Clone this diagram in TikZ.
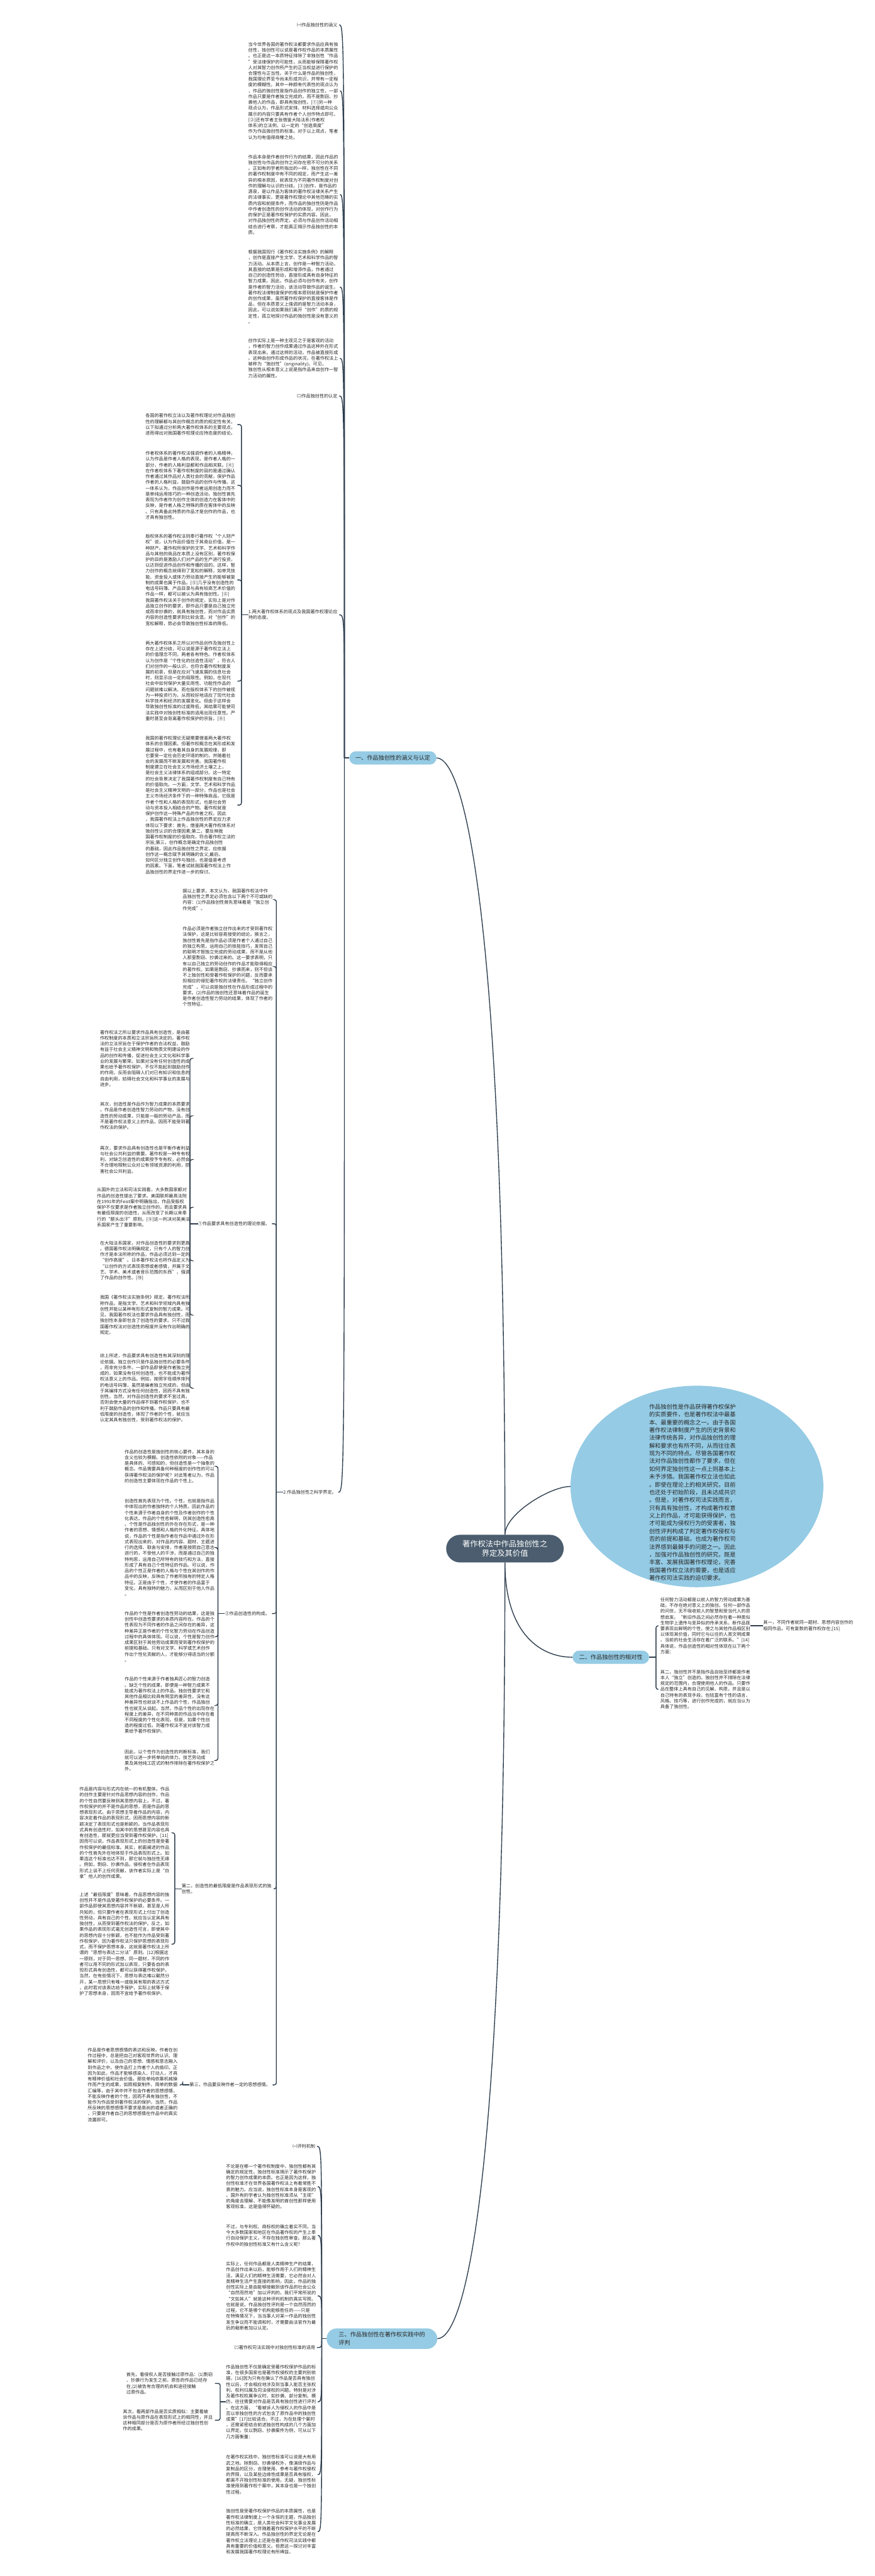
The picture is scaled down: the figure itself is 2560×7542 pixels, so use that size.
\documentclass[tikz,border=0pt]{standalone}
\usepackage{fontspec}
\setmainfont{Noto Sans CJK SC}
\usetikzlibrary{shapes.geometric,shapes.misc,calc}
\definecolor{lc}{RGB}{46,62,78}
\definecolor{pb}{RGB}{149,203,228}
\definecolor{cb}{RGB}{75,93,110}
\definecolor{tc}{RGB}{40,40,40}
\newcommand{\cedge}[2]{\draw[link] (#1) .. controls (#1 |- #2.east) .. ($(#2.east)+(5,0)$);}
\newcommand{\bedge}[2]{\draw[link,rounded corners=1.5mm] (#1) |- ($(#2.east)+(6,0)$);}
\begin{document}
\begin{tikzpicture}[x=0.25mm,y=-0.25mm,
 link/.style={draw=lc,line width=1.8pt},
 txt/.style={font=\fontsize{9.35}{12.1}\selectfont,align=left,inner sep=0pt,text=tc},
 pill/.style={rounded rectangle,fill=pb,inner sep=0pt,font=\fontsize{12}{16}\selectfont,text=tc},
]
\fill[white] (0,0) rectangle (2560,7542);
\useasboundingbox (0,0) rectangle (2560,7542);

% ---------- centre and main branches
\node[rounded rectangle,fill=cb,text=white,minimum width=344*0.25mm,minimum height=81*0.25mm,
  font=\fontsize{16.1}{20.4}\selectfont,align=center,inner sep=0pt] (c) at (1478,4534) {著作权法中作品独创性之\\界定及其价值};
\node[pill,minimum width=255*0.25mm,minimum height=39*0.25mm] (p1) at (1150,2219) {一、作品独创性的涵义与认定};
\node[pill,minimum width=224*0.25mm,minimum height=39*0.25mm] (p2) at (1788,4852) {二、作品独创性的相对性};
\node[pill,minimum width=324*0.25mm,minimum height=60*0.25mm,align=left] (p3) at (1118,6847) {三、作品独创性在著作权实践中的\\评判};

% intro bubble
\node[ellipse,fill=pb,minimum width=740*0.25mm,minimum height=590*0.25mm,inner sep=0pt] (ci) at (2040,4352) {};
\node[txt,font=\fontsize{12}{16.2}\selectfont,anchor=south west] (cit) at (1900,4628) {作品独创性是作品获得著作权保护\\的实质要件，也是著作权法中最基\\本、最重要的概念之一。由于各国\\著作权法律制度产生的历史背景和\\法律传统各异，对作品独创性的理\\解和要求也有所不同，从而往往表\\现为不同的特点。尽管各国著作权\\法对作品独创性都作了要求，但在\\如何界定独创性这一点上则基本上\\未予涉猎。我国著作权立法也如此\\。即使在理论上的相关研究，目前\\也还处于初始阶段，且未达成共识\\。但是，对著作权司法实践而言，\\只有具有独创性，才构成著作权意\\义上的作品，才可能获得保护，也\\才可能成为侵权行为的受害者，独\\创性评判构成了判定著作权侵权与\\否的前提和基础，也成为著作权司\\法界感到最棘手的问题之一。因此\\，加强对作品独创性的研究，既是\\丰富、发展我国著作权理论，完善\\我国著作权立法的需要，也是适应\\著作权司法实践的迫切要求。};

\draw[link] (c.north) .. controls +(0,-1800) and +(83,0) .. (p1.east);
\draw[link] (c.south) .. controls +(0,1800) and +(83,0) .. (p3.east);
\draw[link] (c.south) .. controls +(0,200) and +(-100,0) .. (p2.west);
\draw[link] (c.north) .. controls +(0,-60) and +(-60,0) .. (ci.west);

% ---------- branch one
\node[txt,anchor=east] (a1) at (988,73) {㈠作品独创性的涵义};
\node[txt,anchor=east] (a2) at (990,266) {当今世界各国的著作权法都要求作品应具有独\\创性，独创性可以说是著作权作品的本质属性\\。也正是这一本质特征排除了非独创性“作品\\”受法律保护的可能性，从而能够保障著作权\\人对其智力创作所产生的正当权益进行保护的\\合理性与正当性。关于什么是作品的独创性，\\我国理论界至今尚未形成共识，并带有一定程\\度的模糊性。其中一种颇有代表性的观点认为\\，作品的独创性是指作品创作的独立性，一部\\作品只要是作者独立完成的，而不是剽窃、抄\\袭他人的作品，即具有独创性。{[}①{]}另一种\\观点认为，作品形式安排、材料选择或向公众\\展示的内容只要具有作者个人创作特点即可。\\{[}②{]}还有学者主张借鉴大陆法系(作者权\\体系)的立法例，以一定的“创造高度”\\作为作品独创性的标准。对于以上观点，笔者\\认为均有值得商榷之处。};
\node[txt,anchor=east] (a3) at (990,570) {作品本身是作者创作行为的结果，因此作品的\\独创性与作品的创作之间存在密不可分的关系\\。正如有的学者所指出的一样，独创性在不同\\的著作权制度中有不同的规定，而产生这一差\\异的根本原因，就表现为不同著作权制度对创\\作的理解与认识的分歧。{[}③{]}创作，是作品的\\源泉，是以作品为客体的著作权法律关系产生\\的法律事实，更是著作权理论中其他范畴的实\\质内容和前提条件，而作品的独创性则是作品\\中作者创造性的创作活动的体现，对创作行为\\的保护正是著作权保护的实质内容。因此，\\对作品独创性的界定，必须与作品创作活动相\\结合进行考察，才能真正揭示作品独创性的本\\质。};
\node[txt,anchor=east] (a4) at (990,840) {根据我国现行《著作权法实施条例》的解释\\，创作是直接产生文学、艺术和科学作品的智\\力活动。从本质上言，创作是一种智力活动，\\其直接的结果是形成和增添作品，作者通过\\自己的创造性劳动，直接形成具有自身特征的\\智力成果。因此，作品必须与创作有关，创作\\是作者的智力活动，该活动导致作品的诞生。\\著作权法律制度保护的根本原则就是保护作者\\的创作成果，虽然著作权保护的直接客体是作\\品，但在本质意义上强调的是智力活动本身，\\因此，可以说如果我们离开“创作”的质的规\\定性，孤立地探讨作品的独创性是没有意义的\\。};
\node[txt,anchor=east] (a5) at (990,1049) {创作实际上是一种主观见之于是客观的活动\\，作者的智力创作成果通过作品这种外在形式\\表现出来。通过这样的活动，作品被直接形成\\。这种由创作形成作品的状况，在著作权法上\\被称为“独创性”(originality)。可见，\\独创性从根本意义上说是指作品来自创作一智\\力活动的属性。};
\node[txt,anchor=east] (a6) at (988,1159) {㈡作品独创性的认定};
\node[txt,anchor=east] (a7) at (988,1800) {1.两大著作权体系的观点及我国著作权理论应\\持的态度。};
\node[txt,anchor=east] (a8) at (985,4369) {2.作品独创性之科学界定。};

\path (p1.west) ++(-14,0) coordinate (p1a);
\draw[link] (p1.west) -- (p1a);
\foreach \n in {a1,a2,a3,a4,a5,a6,a7,a8} {\cedge{p1a}{\n}}

% children of 1.
\node[txt,anchor=east] (b1) at (689,1243) {各国的著作权立法以及著作权理论对作品独创\\性的理解都与其创作概念的质的规定性有关，\\以下拟通过分析两大著作权体系的主要观点，\\进而得出对我国著作权理论应持态度的结论。};
\node[txt,anchor=east] (b2) at (689,1421) {作者权体系的著作权法强调作者的人格精神，\\认为作品是作者人格的表现，是作者人格的一\\部分，作者的人格利益都和作品相关联。{[}④{]}\\在作者权体系下著作权制度的目的是通过确认\\作者通过其作品对人类社会的贡献，保护作品\\作者的人格利益，鼓励作品的创作与传播。这\\一体系认为，作品创作是作者运用创造力而不\\是单纯运用技巧的一种创造活动，独创性首先\\表现为作者作为创作主体的创造力在客体中的\\反映，是作者人格之特殊的质在客体中的反映\\。只有具备此特质的作品才是创作的作品，也\\才具有独创性。};
\node[txt,anchor=east] (b3) at (689,1698) {版权体系的著作权法则奉行著作权“个人财产\\权”说，认为作品价值在于其商业价值，是一\\种财产。著作权所保护的文学、艺术和科学作\\品与其他的商品在本质上没有区别，著作权保\\护的目的是激励人们对产品的生产进行投资，\\以达到促进作品创作和传播的目的。这样，智\\力创作的概念就得到了宽松的解释，如单凭技\\能、资金投入或体力劳动直接产生的能够被复\\制的成果也属于作品。{[}⑤{]}几乎没有创造性的\\电话号码簿、产品目录与具有较高艺术价值的\\作品一样，都可以被认为具有独创性。{[}⑥{]}\\我国著作权法关于创作的规定，实际上是对作\\品独立创作的要求，即作品只要是自己独立完\\成而非抄袭的，就具有独创性，而对作品实质\\内容的创造性要求则比较含混。对“创作”的\\宽松解释，势必会导致独创性标准的降低。};
\node[txt,anchor=east] (b4) at (689,1994) {两大著作权体系之所以对作品创作及独创性上\\存在上述分歧，可以说是源于著作权立法上\\的价值理念不同，两者各有特色。作者权体系\\认为创作是“个性化的创造性活动”，符合人\\们对创作的一般认识，也符合著作权制度发\\展的初衷，但是在应对飞速发展的信息社会\\时，则显示出一定的局限性。例如，在现代\\社会中如何保护大量实用性、功能性作品的\\问题就难以解决。而在版权体系下的创作被视\\为一种投资行为，从而较好地适应了现代社会\\科学技术和经济的发展变化。但由于这样会\\导致独创性标准的过度降低，其结果可能使司\\法实践中对独创性标准的适用出现任意性。严\\重时甚至会背离著作权保护的宗旨。{[}⑧{]}};
\node[txt,anchor=east] (b5) at (689,2357) {我国的著作权理论无疑需要借鉴两大著作权\\体系的合理因素。但著作权概念在其形成和发\\展过程中，也有着其自身的发展规律，即\\它要受一定社会历史环境的制约，并随着社\\会的发展而不断发展和完善。我国著作权\\制度建立在社会主义市场经济土壤之上，\\是社会主义法律体系的组成部分。这一特定\\的社会背景决定了我国著作权制度有自己特有\\的价值取向。一方面，文学、艺术和科学作品\\是社会主义精神文明的一部分，作品也是社会\\主义市场经济条件下的一种特殊商品，它既是\\作者个性和人格的表现形式，也是社会劳\\动与资本投入相结合的产物。著作权就是\\保护创作这一特殊产品的作者之权。因此\\，我国著作权法上作品独创性的界定应力求\\体现以下要求：首先，借鉴两大著作权体系对\\独创性认识的合理因素;第二，要反映我\\国著作权制度的价值取向，符合著作权立法的\\宗旨;第三，创作概念是确定作品独创性\\的基础，因此作品独创性之界定，应依据\\创作这一概念赋予其明确的含义;最后，\\如何区分独立创作与独创，也是值是考虑\\的因素。下面，笔者试就我国著作权法上作\\品独创性的界定作进一步的探讨。};
\path (a7.west) ++(-20,0) coordinate (a7b);
\draw[link] (a7.west) -- (a7b);
\foreach \n in {b1,b2,b3,b4,b5} {\bedge{a7b}{\n}}

% children of 2.
\node[txt,anchor=east] (d1) at (798,2634) {据以上要求，本文认为，我国著作权法中作\\品独创性之界定必须包含以下两个不可或缺的\\内容：(1)作品独创性首先意味着是“独立创\\作完成”。};
\node[txt,anchor=east] (d2) at (798,2830) {作品必须是作者独立创作出来的才受到著作权\\法保护，这是比较容易接受的结论。换言之，\\独创性首先是指作品必须是作者个人通过自己\\的独立构思，运用自己的技能技巧，发挥自己\\的聪明才智独立完成的劳动成果，而不是从他\\人那里剽窃、抄袭过来的。这一要求表明，只\\有以自己独立的劳动创作的作品才能取得相应\\的著作权。如果是剽窃、抄袭而来，则不但谈\\不上独创性和受著作权保护的问题，反而要承\\担相应的侵犯著作权的法律责任。“独立创作\\完成”，可以说是独创性在作品形成过程中的\\要求。(2)作品的独创性还意味着作品的诞生\\是作者创造性智力劳动的结果，体现了作者的\\个性特征。};
\node[txt,anchor=east] (d3) at (790,3583) {①作品要求具有创造性的理论依据。};
\node[txt,anchor=east] (d4) at (790,4724) {②作品创造性的构成。};
\node[txt,anchor=east] (d5) at (795,5530) {第二，创造性的最低限度是作品表现形式的独\\创性。};
\node[txt,anchor=east] (d6) at (792,6104) {第三，作品要反映作者一定的思想感情。};
\path (a8.west) ++(-20,0) coordinate (a8b);
\draw[link] (a8.west) -- (a8b);
\foreach \n in {d1,d2,d3,d4,d5,d6} {\bedge{a8b}{\n}}

% children of (1)
\node[txt,anchor=east] (r1) at (556,3099) {著作权法之所以要求作品具有创造性，是由著\\作权制度的本质和立法宗旨所决定的。著作权\\法的立法宗旨在于保护作者的合法权益，鼓励\\有益于社会主义精神文明和物质文明建设的作\\品的创作和传播，促进社会主义文化和科学事\\业的发展与繁荣。如果对没有任何创造性的成\\果也给予著作权保护，不仅不能起到鼓励创作\\的作用，反而会阻碍人们对已有知识和信息的\\自由利用，妨碍社会文化和科学事业的发展与\\进步。};
\node[txt,anchor=east] (r2) at (556,3267) {其次，创造性是作品作为智力成果的本质要求\\。作品是作者创造性智力劳动的产物，没有创\\造性的劳动成果，只能是一般的劳动产品，而\\不是著作权法意义上的作品，因而不能受到著\\作权法的保护。};
\node[txt,anchor=east] (r3) at (556,3395) {再次，要求作品具有创造性也是平衡作者利益\\与社会公共利益的需要。著作权是一种专有权\\利，对缺乏创造性的成果授予专有权，必然会\\不合理地限制公众对公有领域资源的利用，损\\害社会公共利益。};
\node[txt,anchor=east] (r4) at (556,3535) {从国外的立法和司法实践看，大多数国家都对\\作品的创造性提出了要求。美国联邦最高法院\\在1991年的Feist案中明确指出，作品受版权\\保护不仅要求是作者独立创作的，而且要求具\\有最低限度的创造性，从而改变了长期以来奉\\行的“额头出汗”原则。{[}⑨{]}这一判决对英美法\\系国家产生了重要影响。};
\node[txt,anchor=east] (r5) at (556,3691) {在大陆法系国家，对作品创造性的要求则更高\\。德国著作权法明确规定，只有个人的智力创\\作才是本法所称的作品，作品必须达到一定的\\“创作高度”。日本著作权法也将作品定义为\\“以创作的方式表现思想或者感情，并属于文\\艺、学术、美术或者音乐范围的东西”，强调\\了作品的创作性。{[}⑩{]}};
\node[txt,anchor=east] (r6) at (556,3850) {我国《著作权法实施条例》规定，著作权法所\\称作品，是指文学、艺术和科学领域内具有独\\创性并能以某种有形形式复制的智力成果。可\\见，我国著作权法也要求作品具有独创性，而\\独创性本身即包含了创造性的要求。只不过我\\国著作权法对创造性的程度并没有作出明确的\\规定。};
\node[txt,anchor=east] (r7) at (556,4064) {综上所述，作品要求具有创造性有其深刻的理\\论依据。独立创作只是作品独创性的必要条件\\，而非充分条件。一部作品即使是作者独立完\\成的，如果没有任何创造性，也不能成为著作\\权法意义上的作品。例如，按照字母顺序排列\\的电话号码簿，虽然是编者独立完成的，但由\\于其编排方式没有任何创造性，因而不具有独\\创性。当然，对作品创造性的要求不宜过高，\\否则会使大量的作品得不到著作权保护，也不\\利于鼓励作品的创作和传播。作品只要具有最\\低限度的创造性，体现了作者的个性，就应当\\认定其具有独创性，受到著作权法的保护。};
\path (d3.west) ++(-23,0) coordinate (d3b);
\draw[link] (d3.west) -- (d3b);
\foreach \n in {r1,r2,r3,r4,r5,r6,r7} {\bedge{d3b}{\n}}

% children of (2)
\node[txt,anchor=east] (e1) at (628,4293) {作品的创造性是独创性的核心要件，其本身的\\含义也较为模糊。创造性依附的对象——作品\\是具体的、可感知的，但创造性是一个抽象的\\概念。作品需要具备何种程度的创作性的可以\\获得著作权法的保护呢？对此笔者以为，作品\\的创造性主要体现在作品的个性上。};
\node[txt,anchor=east] (e2) at (628,4531) {创造性首先表现为个性。个性，也就是指作品\\中体现出的作者独特的个人特质。因此作品的\\个性来源于作者自身的个性及作者创作的个性\\化表达。作品的个性愈鲜明，则其创造性愈高\\。个性是作品独创性的外在存在形式，是一种\\作者的思想、情感和人格的外化特征。具体地\\说，作品的个性是指作者在作品中通过外在形\\式表现出来的，对作品的内容、题材、主题进\\行的选择、取舍与安排，作者是按照自己意志\\进行的，不受他人的干涉，而是通过自己的独\\特构思，运用自己所特有的技巧和方法，直接\\形成了具有自己个性特征的作品。可以说，作\\品的个性正是作者的人格与个性在其创作的作\\品中的反映，反映出了作者所独有的特定人格\\特征。正是由于个性，才使作者的作品富于\\变化，具有独特的魅力，从而区别于他人作品\\。};
\node[txt,anchor=east] (e3) at (628,4792) {作品的个性是作者创造性劳动的结果，这是独\\创性中创造性要求的本质内容所在。作品的个\\性表现为不同作者的作品之间存在的差异，这\\种差异正是作者的个性化智力劳动在作品创造\\过程中的具体体现。可以说，个性是智力创作\\成果区别于其他劳动成果而受到著作权保护的\\前提和基础。只有对文学、科学或艺术创作\\作出个性化贡献的人，才能够分得适当的分额\\。};
\node[txt,anchor=east] (e4) at (628,4993) {作品的个性来源于作者独具匠心的智力创造\\。缺乏个性的成果，即便是一种智力成果不\\能成为著作权法上的作品。独创性要求它和\\其他作品相比较具有明显的差异性，没有这\\种差异性也就谈不上作品的个性，作品独创\\性也就无从谈起。当然，作品个性的出现存在\\程度上的差异，在不同种类的作品当中存在着\\不同程度的个性化表现。但是，如果个性创\\造的程度过低，则著作权法不宜对该智力成\\果给予著作权保护。};
\node[txt,anchor=east] (e5) at (628,5154) {因此，以个性作为创造性的判断标准，我们\\就可以进一步将单纯的体力、技艺劳动成\\果及其他纯工匠式的制作排除在著作权保护之\\外。};
\path (d4.west) ++(-20,0) coordinate (d4b);
\draw[link] (d4.west) -- (d4b);
\foreach \n in {e1,e2,e3,e4,e5} {\bedge{d4b}{\n}}

% children of second
\node[txt,anchor=east] (f1) at (496,5366) {作品是内容与形式内在统一的有机整体。作品\\的创作主要是针对作品思想内容的创作，作品\\的个性自然要反映到其思想内容上。不过，著\\作权保护的并不是作品的思想，而是作品的思\\想表现形式。由于思想主导着作品的内容，内\\容决定着作品的表现形式，因而思想内容的新\\颖决定了表现形式也是新颖的。当作品表现形\\式具有创造性时，如其中的思想甚至内容也具\\有创造性，那就更应当受到著作权保护。{[}11{]}\\因而可以说，作品表现形式上的创造性是受著\\作权保护的最低标准。其实，前面阐述的作品\\的个性首先外在地体现于作品表现形式上。如\\果连这个标准也达不到，那它就与独创性无缘\\。例如，剽窃、抄袭作品，侵权者在作品表现\\形式上谈不上任何贡献，该作者实际上是“白\\拿”他人的创作成果。};
\node[txt,anchor=east] (f2) at (496,5692) {上述“最低限度”意味着，作品思想内容的独\\创性并不是作品受著作权保护的必要条件。一\\部作品即使其思想内容并不新颖，甚至是人所\\共知的，但只要作者在表现形式上付出了创造\\性劳动，具有自己的个性，就应当认定其具有\\独创性，从而受到著作权法的保护。反之，如\\果作品的表现形式毫无创造性可言，即使其中\\的思想内容十分新颖，也不能作为作品受到著\\作权保护，因为著作权法只保护思想的表现形\\式，而不保护思想本身。这就是著作权法上所\\谓的“思想与表达二分法”原则。{[}12{]}根据这\\一原则，对于同一思想、同一题材，不同的作\\者可以用不同的形式加以表现，只要各自的表\\现形式具有创造性，都可以获得著作权保护。\\当然，在有些情况下，思想与表达难以截然分\\开，某一思想只有唯一或极其有限的表达方式\\，此时若对该表达给予保护，实际上就等于保\\护了思想本身，因而不宜给予著作权保护。};
\path (d5.west) ++(-20,0) coordinate (d5b);
\draw[link] (d5.west) -- (d5b);
\foreach \n in {f1,f2} {\bedge{d5b}{\n}}

% child of third
\node[txt,anchor=east] (k1) at (520,6104) {作品是作者思想感情的表达和反映。作者在创\\作过程中，总是把自己对客观世界的认识、理\\解和评价，以及自己的思想、情感和意志融入\\到作品之中，使作品打上作者个人的烙印。正\\因为如此，作品才能够感染人、打动人，才具\\有精神价值和社会价值。那些单纯依靠机械操\\作而产生的成果，如照相复制件、简单的数据\\汇编等，由于其中并不包含作者的思想感情，\\不能反映作者的个性，因而不具有独创性，不\\能作为作品受到著作权法的保护。当然，作品\\所反映的思想感情不要求是高尚的或者正确的\\，只要是作者自己的思想感情在作品中的真实\\流露即可。};
\path (d6.west) ++(-20,0) coordinate (d6b);
\draw[link] (d6.west) -- (d6b);
\bedge{d6b}{k1}

% ---------- branch two
\node[txt,anchor=west] (q1) at (1933,4760) {任何智力活动都是以前人的智力劳动成果为基\\础，不存在绝对意义上的独创。任何一部作品\\的问世，无不吸收前人的智慧和受当代人的思\\想启发。“新旧作品之间必然存在着一种类似\\生物学上遗传与变异似的传承关系。新作品既\\要表现出鲜明的个性，使之与其他作品相区别\\以体现其价值，同时它与以往的人类文明成果\\、当前的社会生活存在着广泛的联系。”{[}14{]}\\具体说，作品创造性的相对性体现在以下两个\\方面：};
\node[txt,anchor=west] (q1a) at (2234,4760) {其一，不同作者就同一题材、思想内容创作的\\相同作品，可有复数的著作权存在;{[}15{]}};
\node[txt,anchor=west] (q2) at (1933,4946) {其二，独创性并不是指作品自始至终都是作者\\本人“独立”创造的。独创性并不排除在法律\\规定的范围内，合理使用他人的作品。只要作\\品在整体上具有自己的见解、构思，并且是以\\自己特有的表现手段，包括富有个性的语言、\\风格、技巧等，进行创作完成的，就应当认为\\具备了独创性。};
\path (p2.east) ++(20,0) coordinate (p2b);
\draw[link] (p2.east) -- (p2b);
\foreach \n in {q1,q2} {\draw[link,rounded corners=1.5mm] (p2b) |- ($(\n.west)+(-6,0)$);}
\draw[link] (q1.east) -- (q1a.west);

% ---------- branch three
\node[txt,anchor=east] (g1) at (923,6284) {㈠评判机制};
\node[txt,anchor=east] (g2) at (925,6402) {不论是在哪一个著作权制度中，独创性都有其\\确定的规定性。独创性标准揭示了著作权保护\\的智力创作成果的本质。也正是因为这样，独\\创性标准才在世界各国著作权法上有着常胜不\\衰的魅力。应当说，独创性标准本身是客观的\\。国外有的学者认为独创性标准须从“主观”\\的角度去理解，不能像发明的首创性那样使用\\客观标准，这是值得怀疑的。};
\node[txt,anchor=east] (g3) at (925,6545) {不过，与专利权、商标权的确立着实不同，当\\今大多数国家和地区在作品著作权的产生上奉\\行自动保护主义，不存在独创性审查。那么著\\作权中的独创性标准又有什么含义呢?};
\node[txt,anchor=east] (g4) at (925,6722) {实际上，任何作品都是人类精神生产的结果，\\作品创作出来以后，能够作用于人们的精神生\\活，满足人们的精神生活需要，它必然会对人\\类精神生活产生直接的影响，因此，作品的独\\创性实际上是由能够接触到该作品的社会公众\\“自然而然地”加以评判的。我们平常所说的\\“文如其人”就是这种评判机制的真实写照。\\也就是说，作品独创性评判是一个自然而然的\\过程，它不是哪个机构能够胜任的——只是\\在特殊情况下，当当事人对某一作品的独创性\\发生争议而不能调和时，才需要由法官作为最\\后的裁断者加以认定。};
\node[txt,anchor=east] (g5) at (923,6873) {㈡著作权司法实践中对独创性标准的适用};
\node[txt,anchor=east] (g6) at (925,7032) {作品独创性不仅是确定受著作权保护作品的标\\准，在很多国家也是著作权侵权的主要判别依\\据，{[}16{]}因为只有在确认了作品是否具有独创\\性以后，才会相应地涉及到当事人能否主张权\\利、权利归属及司法侵权的问题。特别是对涉\\及著作权权属争议时，如抄袭、部分复制、模\\仿，往往需要对作品是否具有独创性进行评判\\。在这方面，“看被诉人为侵权人的作品中是\\否以非独创性的方式包含了原作品中的独创性\\成果”{[}17{]}比较适合。不过，为在处理个案时\\，还需紧密结合前述独创性构成的几个方面加\\以界定。仅以剽窃、抄袭案件为例，可从以下\\几方面衡量：};
\node[txt,anchor=east] (g7) at (925,7245) {在著作权实践中，独创性标准可以说是大有用\\武之地。除剽窃、抄袭侵权外，像演绎作品与\\复制品的区分，合理使用、参考与著作权侵权\\的界限，以及某些边缘性成果是否具有版权，\\都离不开独创性标准的使用。无疑，独创性标\\准使用到著作权个案中，其本身也是一个独创\\性过程。};
\node[txt,anchor=east] (g8) at (925,7412) {独创性是受著作权保护作品的本质属性，也是\\著作权法律制度上一个永恒的主题，作品独创\\性标准的确立，是人类社会科学文化事业发展\\的必然结果，它伴随着著作权保护水平的不断\\提高而不断深入。作品独创性的界定无论是在\\著作权立法理论上还是在著作权司法实践中都\\具有重要的价值和意义。但愿这一探讨对丰富\\和发展我国著作权理论有所裨益。};
\path (p3.west) ++(-14,0) coordinate (p3a);
\draw[link] (p3.west) -- (p3a);
\foreach \n in {g1,g2,g3,g4,g5,g6,g7,g8} {\cedge{p3a}{\n}}

\node[txt,anchor=east] (h1) at (623,6978) {首先，看侵权人是否接触过原作品：(1)剽窃\\、抄袭行为发生之前，原告的作品已经存\\在;(2)被告有合理的机会和途径接触\\过原作品。};
\node[txt,anchor=east] (h2) at (623,7086) {其次，看两部作品是否实质相似：主要看被\\诉作品与原作品在表现形式上的相同性，并且\\这种相同部分是否为原作者所经过独创性创\\作的成果。};
\path (g6.west) ++(-17,0) coordinate (g6b);
\draw[link] (g6.west) -- (g6b);
\foreach \n in {h1,h2} {\bedge{g6b}{\n}}
\end{tikzpicture}
\end{document}
